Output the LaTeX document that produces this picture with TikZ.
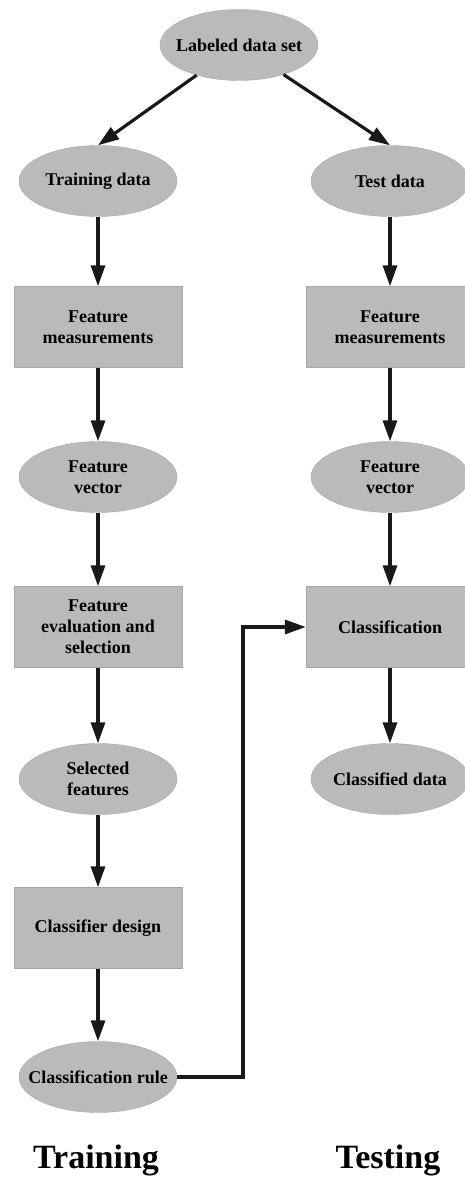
\documentclass[tikz,border=0pt]{standalone}
\usepackage{fontspec}
\setmainfont{Liberation Serif}
\usetikzlibrary{shapes.geometric,arrows.meta}

\begin{document}
\begin{tikzpicture}[x=1pt, y=-1pt,
    every node/.style={font=\bfseries\fontsize{18}{21}\selectfont, align=center, text=black},
    dat/.style={ellipse, draw=gray!70, fill=black!27, minimum width=158pt, minimum height=71pt, inner xsep=-20pt, inner ysep=-4pt},
    proc/.style={rectangle, draw=gray!70, fill=black!27, minimum width=168pt, minimum height=81pt, inner sep=0pt},
    flow/.style={-{Triangle[length=21pt,width=14pt]}, line width=3.2pt, black!90},
    phase/.style={font=\bfseries\fontsize{34}{40}\selectfont, text=black},
]
\useasboundingbox (0,0) rectangle (464,1180);
\node[dat] (lds) at (239,45) {Labeled data set};
% training side
\node[dat] (trd) at (98,181) {Training data};
\node[proc] (fm1) at (98,327) {Feature\\measurements};
\node[dat] (fv1) at (98,477) {Feature\\vector};
\node[proc] (fes) at (98,627) {Feature\\evaluation and\\selection};
\node[dat] (sfe) at (98,779) {Selected\\features};
\node[proc] (cds) at (98,928) {Classifier design};
\node[dat] (crl) at (98,1077) {Classification rule};
% testing side
\node[dat] (tsd) at (390,181) {Test data};
\node[proc] (fm2) at (390,327) {Feature\\measurements};
\node[dat] (fv2) at (390,477) {Feature\\vector};
\node[proc] (cls) at (390,627) {Classification};
\node[dat] (cld) at (390,779) {Classified data};
\coordinate (bend) at (243,1077);
% phase labels
\node[phase] (trn) at (96,1160) {Training};
\node[phase] (tst) at (388,1160) {Testing};
\draw[flow] (lds) -- (trd.north);
\draw[flow] (lds) -- (tsd.north);
\draw[flow] (trd) -- (fm1);
\draw[flow] (fm1) -- (fv1);
\draw[flow] (fv1) -- (fes);
\draw[flow] (fes) -- (sfe);
\draw[flow] (sfe) -- (cds);
\draw[flow] (cds) -- (crl);
\draw[flow] (tsd) -- (fm2);
\draw[flow] (fm2) -- (fv2);
\draw[flow] (fv2) -- (cls);
\draw[flow] (cls) -- (cld);
\draw[flow] (crl.east) -- (bend) |- (cls.west);
\end{tikzpicture}
\end{document}
